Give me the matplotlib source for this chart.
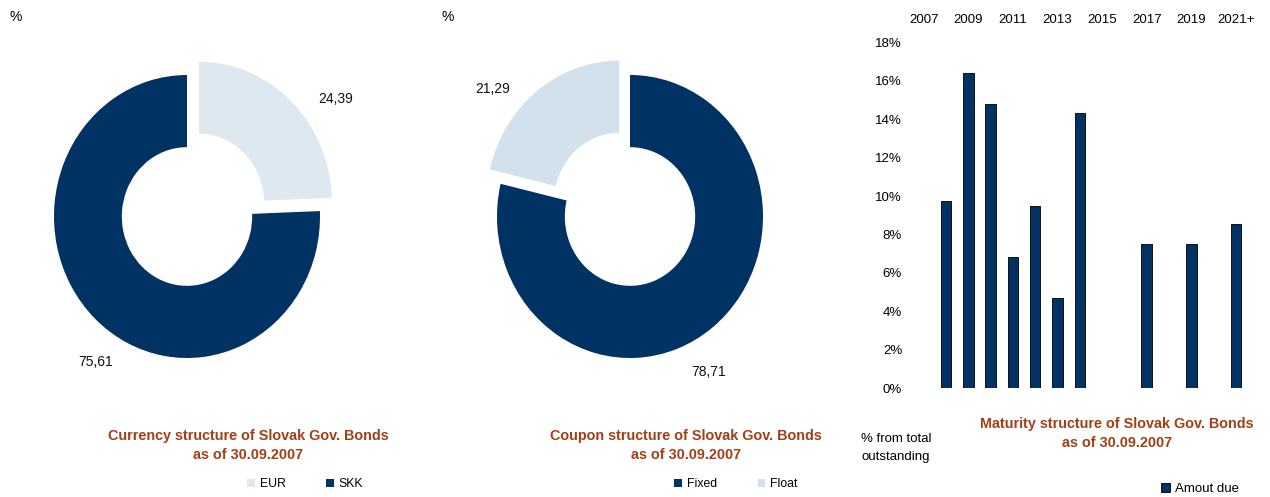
import matplotlib
matplotlib.use("Agg")
import matplotlib.pyplot as plt
from matplotlib.patches import Patch
import numpy as np

# data
currency_labels = ["EUR", "SKK"]
currency_values = [24.39, 75.61]

coupon_labels = ["Fixed", "Float"]
coupon_values = [78.71, 21.29]

maturity_years = ["2007", "2008", "2009", "2010", "2011", "2012", "2013", "2014",
                  "2015", "2016", "2017", "2018", "2019", "2020", "2021+"]
maturity_values = [0, 9.75, 16.4, 14.8, 6.85, 9.5, 4.7, 14.3,
                   0, 0, 7.5, 0, 7.5, 0, 8.55]

navy = "#003263"
light_eur = "#dde8f1"
light_float = "#d3e1ec"
title_col = "#a13f16"

plt.rcParams["font.family"] = ["Liberation Sans", "DejaVu Sans"]

W, H = 1270, 497
fig = plt.figure(figsize=(W / 100, H / 100), dpi=100)


def px_axes(left, top, right, bottom):
    return fig.add_axes([left / W, 1 - bottom / H, (right - left) / W, (bottom - top) / H])


def px_text(x, y, s, **kw):
    return fig.text(x / W, 1 - y / H, s, **kw)


def donut(cx, cy, values, colors, explode, lbl_pos):
    # the donuts in the original are slightly taller than wide
    rx, ry = 133.0, 141.5
    half = 165
    ax = px_axes(cx - half, cy - half, cx + half, cy + half)
    ax.pie(values, colors=colors, startangle=90, counterclock=False,
           explode=explode, wedgeprops=dict(width=0.51, linewidth=0))
    ax.set_aspect("auto")
    ax.set_xlim(-half / rx, half / rx)
    ax.set_ylim(-half / ry, half / ry)
    ax.axis("off")
    for v, (x, y) in zip(values, lbl_pos):
        ax.text(x, y, f"{v:.2f}".replace(".", ","), ha="center", va="center",
                fontsize=10, color="#111111")
    return ax


title_kw = dict(ha="center", va="center", fontsize=10.4, fontweight="bold", color=title_col)

# currency donut
donut(187, 216.5, currency_values, [light_eur, navy], [0.13, 0],
      [(1.12, 0.83), (-0.69, -1.03)])
px_text(10, 17, "%", fontsize=10, va="center")
px_text(248, 436, "Currency structure of Slovak Gov. Bonds", **title_kw)
px_text(248, 455, "as of 30.09.2007", **title_kw)
h1 = [Patch(facecolor=light_eur), Patch(facecolor=navy)]
fig.legend(h1, currency_labels, loc="center", bbox_to_anchor=(305 / W, 1 - 484 / H),
           ncol=2, frameon=False, fontsize=8.8, handlelength=0.65, handleheight=0.65,
           handletextpad=0.4, columnspacing=3.3)

# coupon donut
donut(630, 216.5, coupon_values, [navy, light_float], [0, 0.13],
      [(0.59, -1.10), (-1.03, 0.90)])
px_text(442, 17, "%", fontsize=10, va="center")
px_text(686, 436, "Coupon structure of Slovak Gov. Bonds", **title_kw)
px_text(686, 455, "as of 30.09.2007", **title_kw)
h2 = [Patch(facecolor=navy), Patch(facecolor=light_float)]
fig.legend(h2, coupon_labels, loc="center", bbox_to_anchor=(736 / W, 1 - 484 / H),
           ncol=2, frameon=False, fontsize=8.8, handlelength=0.65, handleheight=0.65,
           handletextpad=0.4, columnspacing=3.3)

# maturity bars
ax3 = px_axes(912.5, 42.3, 1247.1, 388.3)
x = np.arange(len(maturity_years))
ax3.bar(x, maturity_values, width=0.47, color=navy, edgecolor="#111111", linewidth=0.7)
ax3.set_xlim(-0.5, len(maturity_years) - 0.5)
ax3.set_ylim(0, 18)
ax3.set_yticks(np.arange(0, 19, 2))
ax3.set_yticklabels([f"{v}%" for v in range(0, 19, 2)])
ax3.xaxis.tick_top()
ax3.set_xticks(x[::2])
ax3.set_xticklabels(maturity_years[::2])
ax3.tick_params(axis="x", length=0, pad=12, labelsize=9.5)
ax3.tick_params(axis="y", length=0, pad=7.5, labelsize=9.5)
for s in ax3.spines.values():
    s.set_visible(False)

px_text(896, 448, "% from total\noutstanding", ha="center", va="center",
        fontsize=9.5, linespacing=1.6)
px_text(1117, 424, "Maturity structure of Slovak Gov. Bonds", **title_kw)
px_text(1117, 443, "as of 30.09.2007", **title_kw)
fig.legend([Patch(facecolor=navy, edgecolor="#111111", linewidth=0.7)], ["Amout due"],
           loc="center", bbox_to_anchor=(1200 / W, 1 - 489 / H), frameon=False,
           fontsize=9.5, handlelength=0.65, handleheight=0.65, handletextpad=0.4)

fig.savefig("out.png", dpi=100)
